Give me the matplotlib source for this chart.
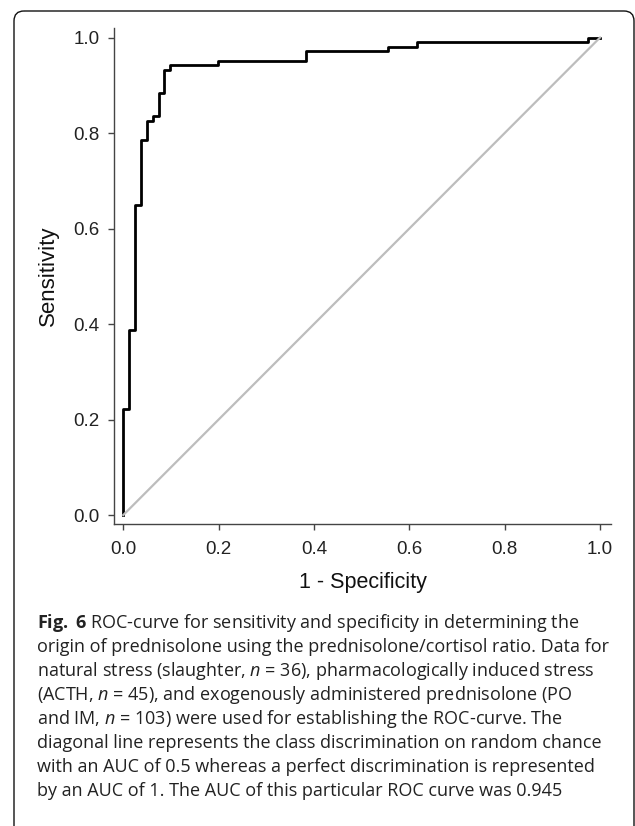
import numpy as np
import matplotlib
matplotlib.use("Agg")
import matplotlib.pyplot as plt
from matplotlib.patches import FancyBboxPatch

# ROC points (step corners)
fpr = [0.0, 0.0, 0.012, 0.025, 0.037, 0.049, 0.062, 0.074, 0.086, 0.099,
       0.198, 0.383, 0.556, 0.617, 0.975, 1.0]
tpr = [0.0, 0.223, 0.388, 0.650, 0.786, 0.825, 0.835, 0.883, 0.932, 0.942,
       0.951, 0.971, 0.981, 0.990, 1.0, 1.0]
ticks = [0.0, 0.2, 0.4, 0.6, 0.8, 1.0]
tick_labels = ["0.0", "0.2", "0.4", "0.6", "0.8", "1.0"]

caption = [
    r"$\mathbf{Fig.}$ $\mathbf{6}$ ROC-curve for sensitivity and specificity in determining the",
    "origin of prednisolone using the prednisolone/cortisol ratio. Data for",
    r"natural stress (slaughter, $n$ = 36), pharmacologically induced stress",
    r"(ACTH, $n$ = 45), and exogenously administered prednisolone (PO",
    r"and IM, $n$ = 103) were used for establishing the ROC-curve. The",
    "diagonal line represents the class discrimination on random chance",
    "with an AUC of 0.5 whereas a perfect discrimination is represented",
    "by an AUC of 1. The AUC of this particular ROC curve was 0.945",
]

plt.rcParams["mathtext.fontset"] = "custom"
plt.rcParams["mathtext.rm"] = "Open Sans"
plt.rcParams["mathtext.it"] = "Open Sans:italic"
plt.rcParams["mathtext.bf"] = "Open Sans:bold"

W, H = 635, 826
fig = plt.figure(figsize=(W / 100, H / 100), dpi=100)

# background frame
bg = fig.add_axes([0, 0, 1, 1], zorder=-1)
bg.set_xlim(0, W)
bg.set_ylim(H, 0)
bg.axis("off")
bg.add_patch(FancyBboxPatch((14, 11), 620, 840, boxstyle="round,pad=0,rounding_size=10",
                            fill=False, ec="#111111", lw=1.0))

# chart
ax = fig.add_axes([114 / W, 1 - 524 / H, 497 / W, 496 / H])
ax.step(fpr, tpr, where="post", color="black", lw=2.0, zorder=2)
ax.plot([0, 1], [0, 1], color="#bdbdbd", lw=1.6, zorder=3)
ax.set_xlim(-0.0195, 1.023)
ax.set_ylim(-0.0188, 1.02)
ax.set_xticks(ticks, tick_labels)
ax.set_yticks(ticks, tick_labels)
for s in ["top", "right"]:
    ax.spines[s].set_visible(False)
for s in ["left", "bottom"]:
    ax.spines[s].set_color("#444444")
    ax.spines[s].set_linewidth(1.0)
ax.tick_params(length=4.5, width=1.0, color="#444444", pad=6,
               labelsize=13.5, labelcolor="#222222")
ax.tick_params(axis="x", pad=8)
for lab in ax.get_xticklabels() + ax.get_yticklabels():
    lab.set_family("Liberation Sans")
ax.set_xlabel("1 - Specificity", fontsize=15.5, family="Liberation Sans",
              color="#111111", labelpad=10)
ax.set_ylabel("Sensitivity", fontsize=16, family="Liberation Sans",
              color="#111111", labelpad=10)

# caption
for i, line in enumerate(caption):
    bg.text(37, 628 + 24 * i, line, fontsize=13, family="Open Sans",
            color="#222222", ha="left", va="baseline")

fig.savefig("out.png", dpi=100)
